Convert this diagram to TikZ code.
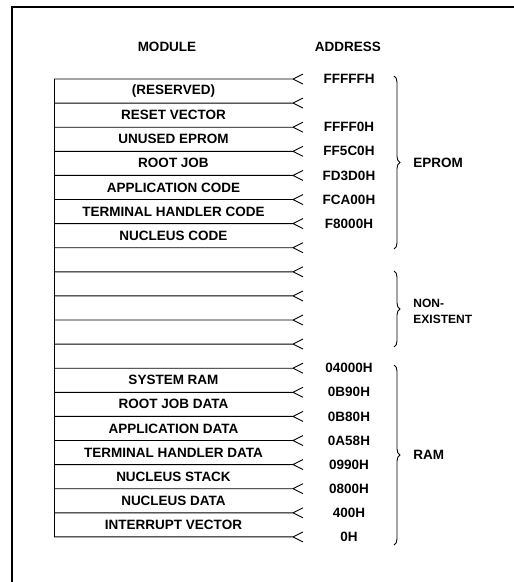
\documentclass[tikz,border=0pt]{standalone}
\usepackage{fontspec}
\setmainfont{Liberation Sans}
\usetikzlibrary{decorations.pathreplacing}
\begin{document}
\begin{tikzpicture}[x = 1pt, y = -1pt, line width = 0.9pt,
		font = \bfseries\fontsize{13.5}{15}\selectfont,
		membrace/.style = {decorate, decoration = {brace, amplitude = 6pt}},
		memlabel/.style = {anchor = west, inner sep = 0pt}]
		\useasboundingbox (0,0) rectangle (514,582);
		\draw [line width = 1.6pt] (12,582) -- (12,7) -- (514,7);
		\node (modhead) at (167,47) {MODULE};
		\node (addrhead) at (348,47) {ADDRESS};
		% boundaries of the memory map
		\foreach \i in {0,...,19} {
			\coordinate (left\i) at (54,79+24.1*\i);
			\coordinate (tip\i) at (293,79+24.1*\i);
			\draw (left\i) -- (tip\i) -- ++(10,-5) (tip\i) -- ++(10,5);
		}
		\draw (left0) -- (left19);
		\foreach \i/\name in {0/(RESERVED), 1/RESET VECTOR, 2/UNUSED EPROM, 3/ROOT JOB,
				4/APPLICATION CODE, 5/TERMINAL HANDLER CODE, 6/NUCLEUS CODE,
				12/SYSTEM RAM, 13/ROOT JOB DATA, 14/APPLICATION DATA,
				15/TERMINAL HANDLER DATA, 16/NUCLEUS STACK, 17/NUCLEUS DATA,
				18/INTERRUPT VECTOR}
			\node (mod\i) at (173.5,91+24.1*\i) {\name};
		\foreach \i/\addr in {0/FFFFFH, 2/FFFF0H, 3/FF5C0H, 4/FD3D0H, 5/FCA00H, 6/F8000H,
				12/04000H, 13/0B90H, 14/0B80H, 15/0A58H, 16/0990H, 17/0800H,
				18/400H, 19/0H}
			\node (addr\i) at (349,79+24.1*\i) {\addr};
		\draw [membrace] (394,76) -- (394,249);
		\node [memlabel] (eprom) at (413,163) {EPROM};
		\draw [membrace] (394,271) -- (394,347);
		\node [memlabel, align = left, font = \bfseries\fontsize{12}{16}\selectfont] (nonex) at (413,311) {NON-\\EXISTENT};
		\draw [membrace] (394,365) -- (394,545);
		\node [memlabel] (ram) at (413,455) {RAM};
	\end{tikzpicture}
\end{document}
